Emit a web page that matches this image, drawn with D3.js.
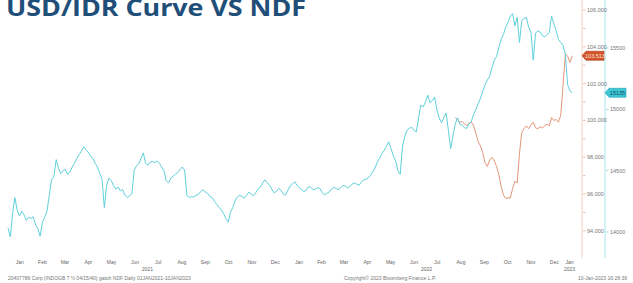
<!DOCTYPE html>
<html><head><meta charset="utf-8">
<script src="https://cdn.jsdelivr.net/npm/d3@7"></script>
<style>body{margin:0;background:#fff}svg{display:block}</style>
</head><body>
<svg id="c" width="633" height="283"></svg>
<script>
// ---- data ----
const startDate = "2021-01-01";
const endDate = "2023-01-10";
const stepDays = 3;
// USD/IDR curve (right axis), one value every 3 days from 1 Jan 2021
const usdIdr = [
14033,13960,14150,14280,14180,14130,14170,14140,14095,14120,
14110,14125,14060,14030,13965,14080,14120,14170,14300,14430,
14450,14590,14520,14475,14500,14510,14470,14490,14530,14560,
14600,14630,14660,14695,14670,14650,14620,14600,14560,14530,
14480,14430,14200,14380,14440,14420,14380,14350,14365,14335,
14345,14300,14280,14295,14310,14500,14540,14555,14600,14645,
14560,14545,14570,14575,14565,14580,14560,14530,14500,14420,
14400,14440,14455,14470,14485,14510,14530,14505,14300,14280,
14290,14285,14300,14305,14330,14345,14325,14315,14290,14280,
14250,14225,14200,14180,14150,14110,14080,14160,14200,14255,
14285,14300,14290,14275,14300,14325,14310,14295,14320,14350,
14365,14400,14425,14400,14385,14350,14320,14330,14355,14340,
14310,14300,14340,14375,14390,14410,14380,14360,14345,14330,
14340,14370,14365,14345,14350,14360,14355,14320,14300,14315,
14325,14350,14365,14355,14345,14360,14380,14375,14360,14370,
14390,14400,14390,14380,14405,14425,14430,14440,14460,14490,
14520,14570,14600,14640,14665,14700,14735,14680,14620,14580,
14500,14470,14700,14780,14830,14845,14855,14830,14815,14930,
15035,15020,15060,15115,15055,15070,15100,14995,14930,14890,
14930,14970,14830,14680,14780,14880,14930,14880,14870,14850,
14845,14880,14900,14960,15000,15045,15090,15150,15200,15240,
15270,15340,15400,15430,15505,15570,15610,15670,15710,15760,
15780,15680,15750,15545,15725,15740,15750,15670,15630,15400,
15620,15640,15630,15600,15590,15610,15625,15760,15700,15640,
15570,15545,15520,15450,15200,15150,15135
];
// NDF (left axis), same 3-day grid, starting at index 195
const ndfStartIndex = 195;
const ndf = [
100.15,100.05,99.90,99.95,99.80,99.72,99.85,99.92,99.70,99.30,
98.85,98.60,98.25,97.70,97.50,97.85,98.00,97.80,97.50,97.05,
96.40,95.95,95.75,95.80,95.78,96.30,96.70,96.60,98.20,99.35,
99.55,99.70,99.55,99.75,99.90,99.60,99.55,99.65,99.60,99.70,
99.80,99.70,100.15,100.00,100.05,99.90,100.30,101.90,103.60,103.50,
103.15,103.513
];
const ndfTicks = [94,95,96,97,98,99,100,101,102,103,104,105,106];
const fxTicks = [14000,14500,15000,15500];
const monthNames = ["Jan","Feb","Mar","Apr","May","Jun","Jul","Aug","Sep","Oct","Nov","Dec"];
const titleText = "USD/IDR Curve VS NDF";
const footerLeft = "20407786 Corp (INDOGB 7 \u00BD 04/15/40) gatuh NDF  Daily 01JAN2021-10JAN2023";
const footerMid = "Copyright\u00A9 2023 Bloomberg Finance L.P.";
const footerRight = "10-Jan-2023 16:28:39";

// ---- drawing ----
const svg = d3.select("#c");
const parse = d3.utcParse("%Y-%m-%d");
const t0 = parse(startDate), t1 = parse(endDate);
const x = d3.scaleUtc().domain([t0, t1]).range([8, 573]);
const yN = d3.scaleLinear().domain([94, 106]).range([230.8, 10]);
const yF = d3.scaleLinear().domain([14000, 15500]).range([232, 48]);

const fxData = usdIdr.map((v, i) => ({d: d3.utcDay.offset(t0, i * stepDays), v}));
const ndfData = ndf.map((v, i) => ({d: d3.utcDay.offset(t0, (ndfStartIndex + i) * stepDays), v}));

const cyan = "#5fd0da", orange = "#e2967a";

// axis lines
svg.append("line").attr("x1", 582).attr("x2", 582).attr("y1", 0).attr("y2", 258)
  .attr("stroke", "#f5d0bd").attr("stroke-width", 1);
svg.append("line").attr("x1", 605).attr("x2", 605).attr("y1", 0).attr("y2", 258)
  .attr("stroke", "#a8e6ec").attr("stroke-width", 1);

// lines
const line = (y) => d3.line().x(d => x(d.d)).y(d => y(d.v)).curve(d3.curveLinear);
svg.append("path").datum(ndfData).attr("d", line(yN))
  .attr("fill", "none").attr("stroke", orange).attr("stroke-width", 1);
svg.append("path").datum(fxData).attr("d", line(yF))
  .attr("fill", "none").attr("stroke", cyan).attr("stroke-width", 1);

// left (orange) axis ticks & labels
const fs = "5.5px";
const g1 = svg.append("g");
ndfTicks.forEach(t => {
  g1.append("line").attr("x1", 583).attr("x2", 585.5).attr("y1", yN(t)).attr("y2", yN(t))
    .attr("stroke", "#e9a98c").attr("stroke-width", 0.8);
  if (t % 2 === 0) {
    g1.append("text").attr("x", 587).attr("y", yN(t)).attr("dy", "0.35em")
      .attr("font-family", "Liberation Sans, Arial, sans-serif").attr("font-size", fs)
      .attr("fill", "#777").text(d3.format(".3f")(t));
  }
});
// right (cyan) axis
const g2 = svg.append("g");
fxTicks.forEach(t => {
  g2.append("line").attr("x1", 606).attr("x2", 608.5).attr("y1", yF(t)).attr("y2", yF(t))
    .attr("stroke", "#7fd9e2").attr("stroke-width", 0.8);
  g2.append("text").attr("x", 610).attr("y", yF(t)).attr("dy", "0.35em")
    .attr("font-family", "Liberation Sans, Arial, sans-serif").attr("font-size", fs)
    .attr("fill", "#777").text(t);
});

// last-value tags
function tag(x0, yv, w, fill, stroke, txt, tc) {
  const p = [[x0, yv], [x0 + 4, yv - 4.5], [x0 + w, yv - 4.5], [x0 + w, yv + 4.5], [x0 + 4, yv + 4.5]];
  svg.append("polygon").attr("points", p.map(q => q.join(",")).join(" "))
    .attr("fill", fill).attr("stroke", stroke).attr("stroke-width", 0.6);
  svg.append("text").attr("x", x0 + 4 + (w - 4) / 2).attr("y", yv).attr("dy", "0.36em")
    .attr("text-anchor", "middle").attr("font-family", "Liberation Sans, Arial, sans-serif")
    .attr("font-size", "5.5px").attr("fill", tc).text(txt);
}
const lastN = ndfData[ndfData.length - 1], lastF = fxData[fxData.length - 1];
tag(582, yN(lastN.v), 22, "#d4552a", "#a83a18", d3.format(".3f")(lastN.v), "#fbe3d8");
tag(605, yF(lastF.v), 21, "#3ec6d6", "#1e9fb0", String(lastF.v), "#0d4d57");

// month labels at the centre of each visible month
const months = d3.utcMonth.range(d3.utcMonth.floor(t0), t1);
const gx = svg.append("g").attr("font-family", "Liberation Sans, Arial, sans-serif")
  .attr("font-size", "5px").attr("fill", "#666").attr("text-anchor", "middle");
months.forEach(m => {
  const a = m < t0 ? t0 : m;
  const bEnd = d3.utcMonth.offset(m, 1);
  const b = bEnd > t1 ? t1 : bEnd;
  const cx = (x(a) + x(b)) / 2;
  gx.append("text").attr("x", cx).attr("y", 264).text(monthNames[m.getUTCMonth()]);
});
const years = d3.utcYear.range(d3.utcYear.floor(t0), t1);
years.forEach(yv => {
  const a = yv < t0 ? t0 : yv;
  const e = d3.utcYear.offset(yv, 1);
  const b = e > t1 ? t1 : e;
  gx.append("text").attr("x", (x(a) + x(b)) / 2).attr("y", 271).text(yv.getUTCFullYear());
});

// footer
const ff = svg.append("g").attr("font-family", "Liberation Sans, Arial, sans-serif")
  .attr("font-size", "5px").attr("fill", "#777");
ff.append("text").attr("x", 8).attr("y", 280).text(footerLeft);
ff.append("text").attr("x", 390).attr("y", 280).attr("text-anchor", "middle").text(footerMid);
ff.append("text").attr("x", 627).attr("y", 280).attr("text-anchor", "end").text(footerRight);

// title
svg.append("text").attr("x", 6).attr("y", 16)
  .attr("font-family", "Open Sans, sans-serif").attr("font-weight", "bold")
  .attr("font-size", "24px").attr("fill", "#1f4e79")
  .attr("textLength", 300).attr("lengthAdjust", "spacingAndGlyphs")
  .text(titleText);
</script>
</body></html>
